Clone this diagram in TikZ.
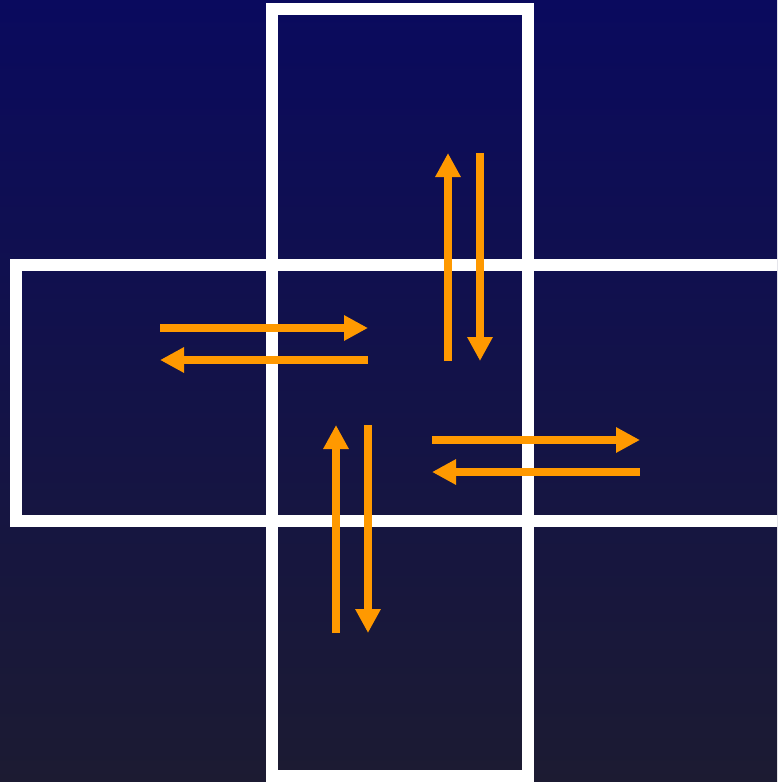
\documentclass[tikz,border=0pt]{standalone}
\usetikzlibrary{arrows.meta}
\definecolor{bgtop}{HTML}{0A0A5E}
\definecolor{bgbot}{HTML}{1C1B32}
\definecolor{arrorange}{HTML}{FF9900}
\begin{document}
\begin{tikzpicture}[x=1pt,y=-1pt,
  frame/.style={draw=white,line width=12pt},
  flow/.style={draw=arrorange,line width=8pt,-{Triangle[length=24pt,width=24pt]}}]
\useasboundingbox (0,0) rectangle (777,782);
\clip (0,0) rectangle (777,782);
\shade[top color=bgtop,bottom color=bgbot] (0,0) rectangle (777,782);
% frames
\draw[frame] (272,9) rectangle (528,776);
\draw[frame] (16,265) rectangle (800,521);
% coordinates
\coordinate (a1s) at (448,361); \coordinate (a1e) at (448,153);
\coordinate (a2s) at (480,153); \coordinate (a2e) at (480,361);
\coordinate (b1s) at (160,328); \coordinate (b1e) at (368,328);
\coordinate (b2s) at (368,360); \coordinate (b2e) at (160,360);
\coordinate (c1s) at (336,633); \coordinate (c1e) at (336,425);
\coordinate (c2s) at (368,425); \coordinate (c2e) at (368,633);
\coordinate (d1s) at (432,440); \coordinate (d1e) at (640,440);
\coordinate (d2s) at (640,472); \coordinate (d2e) at (432,472);
\draw[flow] (a1s) -- (a1e);
\draw[flow] (a2s) -- (a2e);
\draw[flow] (b1s) -- (b1e);
\draw[flow] (b2s) -- (b2e);
\draw[flow] (c1s) -- (c1e);
\draw[flow] (c2s) -- (c2e);
\draw[flow] (d1s) -- (d1e);
\draw[flow] (d2s) -- (d2e);
\end{tikzpicture}
\end{document}
